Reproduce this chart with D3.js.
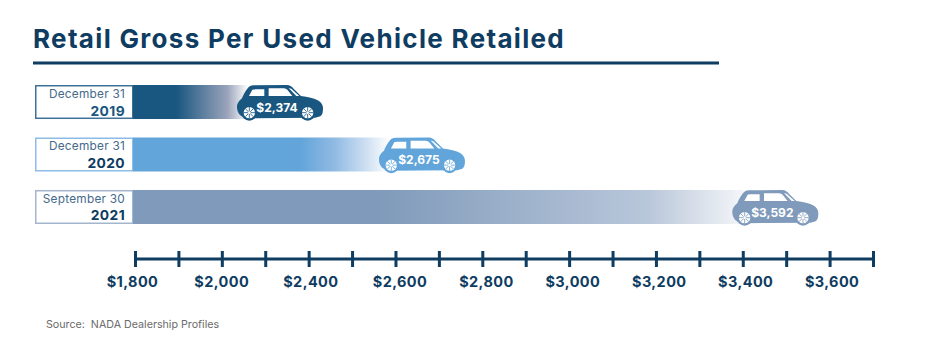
<!DOCTYPE html>
<html lang="en">
<head>
    <meta charset="UTF-8">
    <title>Retail Gross Per Used Vehicle Retailed</title>
    <script src="https://d3js.org/d3.v7.min.js"></script>
    <style>
        html, body { margin: 0; padding: 0; background: #fff; }
        svg { display: block; }
        text { font-family: Inter, "Open Sans", sans-serif; white-space: pre; }
    </style>
</head>
<body>
<svg id="canvas" width="926" height="360"></svg>
<script>
    const dates = ["December 31", "December 31", "September 30"];
    const years = ["2019", "2020", "2021"];
    const grossValues = ["$2,374", "$2,675", "$3,592"];
    // where the nose of each car sits on the axis, counted in tick steps from the first tick
    const carNoseSteps = [4.33, 7.6, 15.74];
    // the picture's axis has 18 ticks, every other one labelled ($2,200 is missing in the original)
    const tickLabels = ["$1,800", "", "$2,000", "", "$2,400", "", "$2,600", "", "$2,800", "",
        "$3,000", "", "$3,200", "", "$3,400", "", "$3,600", ""];

    const barColors = ["#1a5780", "#62a5da", "#7f9aba"];
    const boxBorders = ["#3f7299", "#8dbde6", "#a3b6cd"];
    const yearColors = ["#1a5780", "#0f3c61", "#0f3c61"];
    // gradient stops after the solid part: [offset, colour]
    const fadeStops = [
        [[0.38, "#1a5780"], [0.82, "#9aa3bb"], [1, "#ffffff"]],
        [[0.65, "#62a5da"], [0.78, "#8fb9e3"], [0.91, "#cfe0f2"], [1, "#ffffff"]],
        [[0.4, "#7f9aba"], [0.845, "#b9c7da"], [1, "#f4f6f9"]]
    ];
    const dark = "#0f3c61";

    const svg = d3.select("#canvas");

    svg.append("text").attr("x", 33).attr("y", 48)
        .attr("font-size", 26).attr("font-weight", 700).attr("fill", dark)
        .attr("letter-spacing", 1.32)
        .text("Retail Gross Per Used Vehicle Retailed");
    svg.append("line").attr("x1", 33).attr("x2", 719).attr("y1", 63).attr("y2", 63)
        .attr("stroke", dark).attr("stroke-width", 3);

    const x = d3.scaleLinear().domain([0, tickLabels.length - 1]).range([135, 873]);
    const y = d3.scaleBand().domain(years).range([85, 224]).paddingInner(0.352);
    const labelNudge = d3.scaleLinear().domain([0, 6, 16]).range([-3, 4, 2]);

    const defs = svg.append("defs");
    years.forEach(function (yr, i) {
        const g = defs.append("linearGradient").attr("id", "fade" + yr);
        g.append("stop").attr("offset", 0).attr("stop-color", barColors[i]);
        fadeStops[i].forEach(function (s) {
            g.append("stop").attr("offset", s[0]).attr("stop-color", s[1]);
        });
    });

    // car outline in 3x units, rear at x=0, nose at x=258, roof at y=0
    const carBody = "M5 85 C0 76 -1 66 1 58 C4 50 10 44 15 40 C19 30 24 20 32 10 C36 4 42 2 50 1 L150 0 " +
        "C158 0 164 4 170 11 L192 33 C212 36 232 40 245 47 C254 53 259 62 258 72 C258 82 256 90 250 94 " +
        "L235 98 L30 100 C18 98 9 92 5 85 Z";
    const carWindows = "M46 14 C50 13 60 13 82 13 L82 33 L36 33 Z M95 10 L140 10 C146 11 150 13 154 18 L166 33 L95 33 Z " +
        "M155 9 L163 11 L187 33 L178 33 Z";
    const wheelSpokes = d3.range(8).map(function (k) { return k * 45; });

    const rows = svg.selectAll("g.row").data(years).enter().append("g").attr("class", "row");

    rows.append("rect")
        .attr("x", 35.75)
        .attr("y", function (d) { return y(d) + 0.75; })
        .attr("width", 97)
        .attr("height", y.bandwidth() - 1.5)
        .attr("fill", "#fff")
        .attr("stroke", function (d, i) { return boxBorders[i]; })
        .attr("stroke-width", 1.5);

    rows.append("rect")
        .attr("x", x(0) - 2)
        .attr("y", function (d) { return y(d); })
        .attr("width", function (d, i) { return x(carNoseSteps[i]) - 75 - (x(0) - 2); })
        .attr("height", y.bandwidth())
        .attr("fill", function (d) { return "url(#fade" + d + ")"; });

    rows.append("text")
        .attr("x", 125).attr("text-anchor", "end")
        .attr("y", function (d) { return y(d) + 13; })
        .attr("font-size", 11.8).attr("letter-spacing", 0.25)
        .attr("fill", "#44698a")
        .text(function (d, i) { return dates[i]; });

    rows.append("text")
        .attr("x", 125).attr("text-anchor", "end")
        .attr("y", function (d) { return y(d) + 30.5; })
        .attr("font-size", 13.8).attr("font-weight", 700).attr("letter-spacing", 0.4)
        .attr("fill", function (d, i) { return yearColors[i]; })
        .text(function (d) { return d; });

    rows.each(function (d, i) {
        const car = d3.select(this).append("g")
            .attr("transform", "translate(" + x(carNoseSteps[i]) + "," + y(d) + ") scale(0.3333) translate(-258,0)");
        car.append("path").attr("d", carBody).attr("fill", barColors[i]);
        car.append("path").attr("d", carWindows).attr("fill", "#fff");
        [37, 212].forEach(function (cx) {
            const wheel = car.append("g").attr("transform", "translate(" + cx + ",83)");
            wheel.append("circle").attr("r", 24).attr("fill", barColors[i]);
            wheel.append("circle").attr("r", 17).attr("fill", "#fff");
            wheel.selectAll("line").data(wheelSpokes).enter().append("line")
                .attr("x2", function (a) { return 17 * Math.cos(a * Math.PI / 180); })
                .attr("y2", function (a) { return 17 * Math.sin(a * Math.PI / 180); })
                .attr("stroke", barColors[i])
                .attr("stroke-width", 2.5);
            wheel.append("circle").attr("r", 4).attr("fill", "#fff");
        });
    });

    rows.append("text")
        .attr("x", function (d, i) { return x(carNoseSteps[i]) - 46; })
        .attr("y", function (d) { return y(d) + 27; })
        .attr("text-anchor", "middle")
        .attr("font-size", 12).attr("font-weight", 700).attr("fill", "#fff")
        .text(function (d, i) { return grossValues[i]; });

    // axis
    const axis = d3.axisBottom(x)
        .tickValues(d3.range(tickLabels.length))
        .tickSize(16)
        .tickPadding(10)
        .tickFormat(function (d) { return tickLabels[d]; });
    const axisG = svg.append("g").attr("transform", "translate(0,251)").call(axis);
    axisG.select(".domain").attr("d", "M" + x(0) + ",8H" + x(tickLabels.length - 1))
        .attr("stroke", dark).attr("stroke-width", 3);
    axisG.selectAll(".tick line").attr("stroke", dark).attr("stroke-width", 3);
    axisG.selectAll(".tick text")
        .attr("fill", dark).attr("font-size", 14.5).attr("font-weight", 700).attr("letter-spacing", 0.4)
        .attr("dx", function (d) { return labelNudge(d); })
        .style("font-family", "Inter, 'Open Sans', sans-serif");

    svg.append("text").attr("x", 46).attr("y", 328)
        .attr("font-size", 10.7).attr("fill", "#6b6b6b")
        .text("Source:  NADA Dealership Profiles");
</script>
</body>
</html>
